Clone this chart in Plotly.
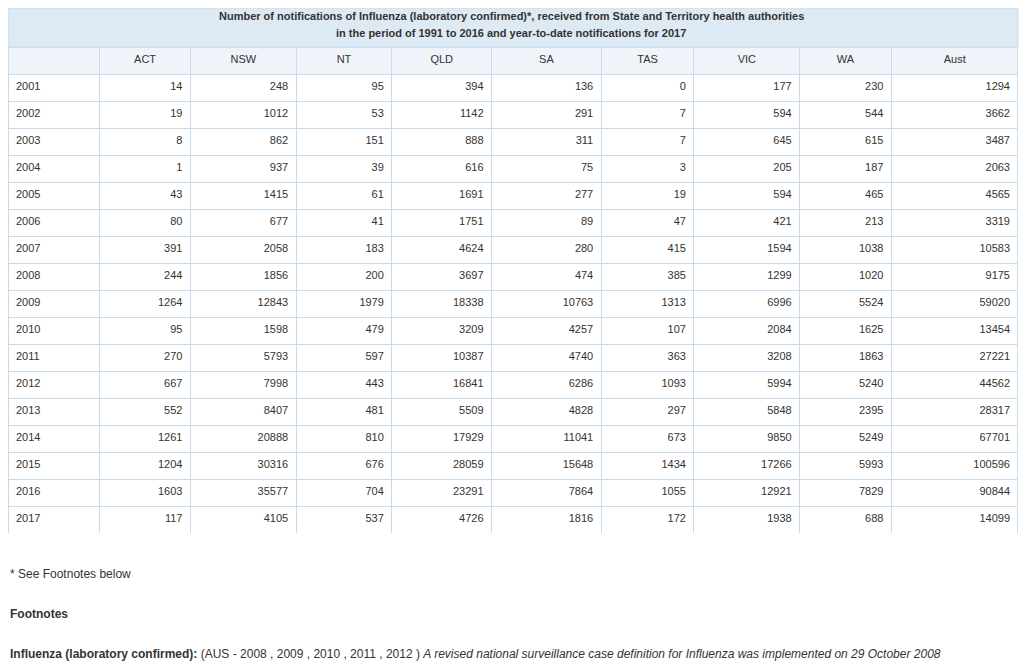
import plotly.graph_objects as go

# the page adds an 8px body margin, so figure coordinates = reference pixels - 8
OFF = 8
W, H = 1020, 658

years = ["2001", "2002", "2003", "2004", "2005", "2006", "2007", "2008", "2009",
         "2010", "2011", "2012", "2013", "2014", "2015", "2016", "2017"]
act = [14, 19, 8, 1, 43, 80, 391, 244, 1264, 95, 270, 667, 552, 1261, 1204, 1603, 117]
nsw = [248, 1012, 862, 937, 1415, 677, 2058, 1856, 12843, 1598, 5793, 7998, 8407, 20888, 30316, 35577, 4105]
nt = [95, 53, 151, 39, 61, 41, 183, 200, 1979, 479, 597, 443, 481, 810, 676, 704, 537]
qld = [394, 1142, 888, 616, 1691, 1751, 4624, 3697, 18338, 3209, 10387, 16841, 5509, 17929, 28059, 23291, 4726]
sa = [136, 291, 311, 75, 277, 89, 280, 474, 10763, 4257, 4740, 6286, 4828, 11041, 15648, 7864, 1816]
tas = [0, 7, 7, 3, 19, 47, 415, 385, 1313, 107, 363, 1093, 297, 673, 1434, 1055, 172]
vic = [177, 594, 645, 205, 594, 421, 1594, 1299, 6996, 2084, 3208, 5994, 5848, 9850, 17266, 12921, 1938]
wa = [230, 544, 615, 187, 465, 213, 1038, 1020, 5524, 1625, 1863, 5240, 2395, 5249, 5993, 7829, 688]
aust = [1294, 3662, 3487, 2063, 4565, 3319, 10583, 9175, 59020, 13454, 27221, 44562, 28317, 67701, 100596, 90844, 14099]

headers = ["", "ACT", "NSW", "NT", "QLD", "SA", "TAS", "VIC", "WA", "Aust"]
col_px = [92, 91, 106, 96, 100, 110, 93, 106, 92, 127]

GRID = "#c9dcec"
FONT = "Liberation Sans, Arial, sans-serif"
TXT = "#333333"


def px(x):
    return max(x - OFF, 0) / W


def py(y):
    return 1 - max(y - OFF, 0) / H


fig = go.Figure(go.Table(
    columnwidth=col_px,
    domain=dict(x=[px(5), px(1018)], y=[py(533), py(47)]),
    header=dict(
        values=headers,
        fill_color="#eef4f9",
        line_color=GRID,
        align="center",
        height=27,
        font=dict(family=FONT, size=11, color=TXT),
    ),
    cells=dict(
        values=[years, act, nsw, nt, qld, sa, tas, vic, wa, aust],
        fill_color="white",
        line_color=GRID,
        align=["left"] + ["right"] * 9,
        height=27,
        font=dict(family=FONT, size=11, color=TXT),
    ),
))

# title band above the table
fig.add_shape(type="rect", xref="paper", yref="paper",
              x0=px(5), x1=px(1018), y0=py(47), y1=py(8),
              fillcolor="#dde9f3", line=dict(color=GRID, width=1), layer="below")
fig.add_annotation(
    text="<b>Number of notifications of Influenza (laboratory confirmed)*, received from State and Territory health authorities</b>",
    xref="paper", yref="paper", x=px(511), y=py(16), yanchor="middle", showarrow=False,
    font=dict(family=FONT, size=11, color=TXT))
fig.add_annotation(
    text="<b>in the period of 1991 to 2016 and year-to-date notifications for 2017</b>",
    xref="paper", yref="paper", x=px(511), y=py(33), yanchor="middle", showarrow=False,
    font=dict(family=FONT, size=11, color=TXT))

fig.add_annotation(text="* See Footnotes below", xref="paper", yref="paper",
                   x=px(5), y=py(574), xanchor="left", yanchor="middle", showarrow=False,
                   font=dict(family=FONT, size=12, color=TXT))
fig.add_annotation(text="<b>Footnotes</b>", xref="paper", yref="paper",
                   x=px(5), y=py(614), xanchor="left", yanchor="middle", showarrow=False,
                   font=dict(family=FONT, size=12, color=TXT))
fig.add_annotation(
    text="<b>Influenza (laboratory confirmed):</b> (AUS - 2008 , 2009 , 2010 , 2011 , 2012 ) "
         "<i>A revised national surveillance case definition for Influenza was implemented on 29 October 2008</i>",
    xref="paper", yref="paper", x=px(5), y=py(654), xanchor="left", yanchor="middle", showarrow=False,
    font=dict(family=FONT, size=12, color=TXT))

fig.update_layout(width=W, height=H, margin=dict(l=0, r=0, t=0, b=0),
                  paper_bgcolor="white")

fig.write_html("out.html")
